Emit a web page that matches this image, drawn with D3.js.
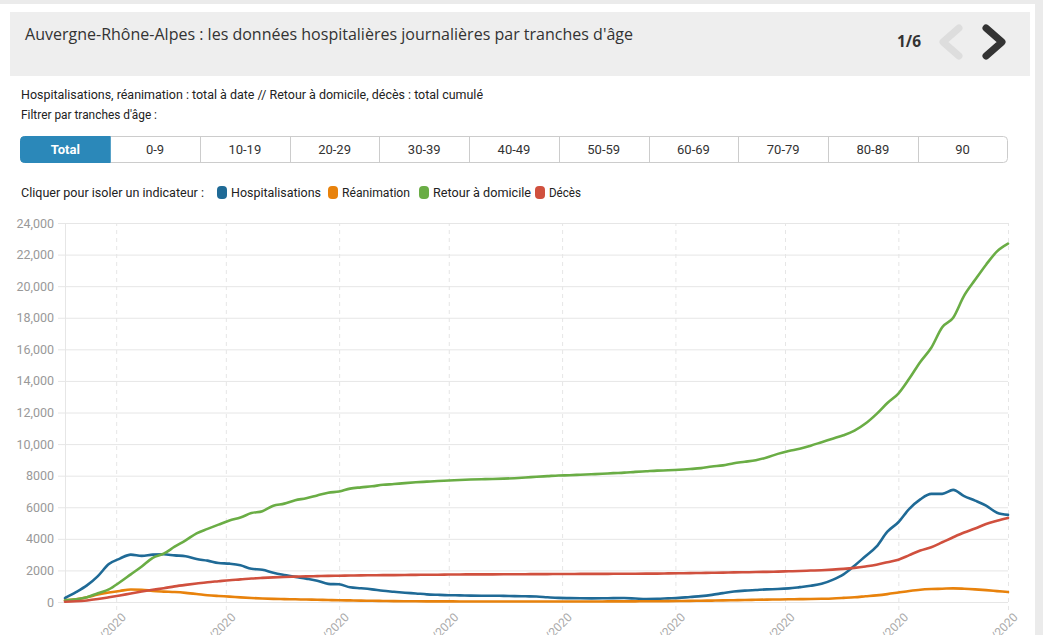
<!DOCTYPE html>
<html><head><meta charset="utf-8">
<script src="https://cdn.jsdelivr.net/npm/d3@7"></script>
<style>
body{margin:0;background:#fff;}
svg{display:block;font-family:Roboto,"Noto Sans",sans-serif;}
</style>
</head><body>
<svg id="c" width="1043" height="635"></svg>
<script>
// ---- data (one value every 3 days, starting 18/03/2020) ----
const startDate = "2020-03-18";
const stepDays = 3;
const hospitalisations = [250,620,1050,1640,2400,2750,3000,2920,3000,3020,2950,2900,2720,2620,2470,2430,2330,2100,2040,1850,1710,1590,1480,1350,1150,1120,930,870,800,710,650,590,540,485,455,430,420,405,400,400,385,375,360,345,
  300,260,245,235,230,235,245,250,220,190,200,230,260,320,370,450,560,660,720,760,800,820,860,940,1030,1150,1400,1750,2300,2900,3500,4450,5050,5900,6500,6850,6850,7100,6700,6420,6100,5650,5515];
const reanimation = [100,170,300,470,600,700,790,780,700,660,630,580,510,430,380,340,290,250,220,200,185,170,155,140,125,110,100,90,75,65,55,50,45,42,40,38,36,35,34,33,33,32,32,32,
  32,32,33,34,35,36,38,40,42,45,50,55,62,70,80,90,100,115,130,140,150,160,170,180,190,205,225,260,300,360,420,500,600,700,780,820,840,865,840,800,750,690,630];
const retourDomicile = [100,170,300,560,800,1250,1750,2250,2800,3060,3500,3900,4350,4630,4900,5160,5350,5630,5750,6100,6230,6450,6570,6750,6920,7000,7180,7260,7330,7420,7470,7530,7580,7620,7660,7690,7725,7755,7775,7790,7810,7840,7880,7930,
  7970,8010,8030,8060,8090,8120,8160,8190,8240,8280,8320,8340,8370,8420,8480,8580,8650,8790,8880,8980,9150,9380,9560,9700,9900,10120,10340,10560,10850,11300,11900,12600,13200,14150,15200,16100,17400,18000,19400,20400,21360,22200,22690];
const deces = [20,45,100,190,300,415,540,660,770,875,990,1085,1170,1250,1315,1380,1430,1485,1525,1560,1585,1605,1625,1640,1655,1665,1675,1685,1692,1700,1705,1712,1718,1725,1730,1738,1745,1748,1750,1752,1755,1760,1762,1765,
  1768,1772,1775,1778,1780,1782,1785,1788,1790,1795,1800,1810,1820,1830,1840,1850,1860,1875,1885,1895,1910,1925,1945,1965,1990,2015,2050,2095,2160,2250,2360,2520,2680,2970,3260,3470,3780,4100,4400,4650,4945,5150,5325];
const seriesNames = ["Hospitalisations","Réanimation","Retour à domicile","Décès"];
const yTicks = [0,2000,4000,6000,8000,10000,12000,14000,16000,18000,20000,22000,24000];
const xTickDates = ["2020-04-01","2020-05-01","2020-06-01","2020-07-01","2020-08-01","2020-09-01","2020-10-01","2020-11-01","2020-12-01"];
const ageGroups = ["Total","0-9","10-19","20-29","30-39","40-49","50-59","60-69","70-79","80-89","90"];

// ---- styles ----
const colors = ["#1f6a96","#e8820c","#6aad45","#d0503e"];
const W = 1043, H = 635;
const svg = d3.select("#c");
const parse = d3.timeParse("%Y-%m-%d");
const t0 = parse(startDate);
const allSeries = [hospitalisations, reanimation, retourDomicile, deces];

// frame
svg.append("rect").attr("x",0).attr("y",0).attr("width",W).attr("height",4).attr("fill","#ebebeb");
svg.append("rect").attr("x",1035).attr("y",0).attr("width",8).attr("height",H).attr("fill","#ebebeb");
svg.append("rect").attr("x",10).attr("y",12).attr("width",1020).attr("height",64).attr("fill","#eeeeee");

svg.append("text").attr("x",25).attr("y",40).attr("font-family","'Open Sans',sans-serif").attr("font-size",16.5)
  .attr("fill","#333").attr("textLength",608).attr("lengthAdjust","spacingAndGlyphs")
  .text("Auvergne-Rhône-Alpes : les données hospitalières journalières par tranches d'âge");
svg.append("text").attr("x",897).attr("y",47).attr("font-family","'Open Sans',sans-serif").attr("font-size",15.5)
  .attr("font-weight","bold").attr("fill","#333").attr("textLength",24).attr("lengthAdjust","spacingAndGlyphs").text("1/6");
svg.append("path").attr("d","M959,28L943,42L959,56").attr("fill","none").attr("stroke","#dddddd")
  .attr("stroke-width",7).attr("stroke-linecap","round").attr("stroke-linejoin","round");
svg.append("path").attr("d","M986,28L1002,42L986,56").attr("fill","none").attr("stroke","#333333")
  .attr("stroke-width",7).attr("stroke-linecap","round").attr("stroke-linejoin","round");

svg.append("text").attr("x",21).attr("y",99).attr("font-size",12.5).attr("fill","#222")
  .attr("textLength",462).attr("lengthAdjust","spacingAndGlyphs")
  .text("Hospitalisations, réanimation : total à date // Retour à domicile, décès : total cumulé");
svg.append("text").attr("x",21).attr("y",119).attr("font-size",12.5).attr("fill","#222")
  .attr("textLength",136).attr("lengthAdjust","spacingAndGlyphs").text("Filtrer par tranches d'âge :");

// buttons
const bx = d3.scaleBand().domain(ageGroups).range([20.5,1007.5]);
const bg = svg.append("g");
bg.append("rect").attr("x",20.5).attr("y",136.5).attr("width",987).attr("height",26).attr("rx",4)
  .attr("fill","#fff").attr("stroke","#cccccc");
bg.append("path").attr("d",`M${bx("0-9")},136.5H24.5A4,4 0 0 0 20.5,140.5V158.5A4,4 0 0 0 24.5,162.5H${bx("0-9")}Z`)
  .attr("fill","#2b88b9").attr("stroke","#2b88b9");
ageGroups.slice(2).forEach(g => {
  bg.append("line").attr("x1",Math.round(bx(g))+0.5).attr("x2",Math.round(bx(g))+0.5).attr("y1",137).attr("y2",162).attr("stroke","#cccccc");
});
ageGroups.forEach((g,i) => {
  bg.append("text").attr("x",bx(g)+bx.bandwidth()/2).attr("y",154).attr("text-anchor","middle")
    .attr("font-size",13).attr("font-weight",i===0?"bold":"normal").attr("fill",i===0?"#fff":"#333").text(g);
});

// legend
svg.append("text").attr("x",21).attr("y",197).attr("font-size",12.5).attr("fill","#222")
  .attr("textLength",183).attr("lengthAdjust","spacingAndGlyphs").text("Cliquer pour isoler un indicateur :");
const legX = [217,328,419,535];
const legW = [90,68,98,32];
seriesNames.forEach((n,i) => {
  svg.append("rect").attr("x",legX[i]).attr("y",186).attr("width",10).attr("height",13).attr("rx",4).attr("fill",colors[i]);
  svg.append("text").attr("x",legX[i]+14).attr("y",197).attr("font-size",12.5).attr("fill","#222")
    .attr("textLength",legW[i]).attr("lengthAdjust","spacingAndGlyphs").text(n);
});

// chart
const x = d3.scaleTime().domain([t0, parse("2020-12-01")]).range([65,1008]);
const y = d3.scaleLinear().domain([0,24000]).range([602,223]);
const fmtY = v => v >= 10000 ? d3.format(",")(v) : String(v);

const gy = svg.append("g").attr("transform","translate(58,0)")
  .call(d3.axisLeft(y).tickValues(yTicks).tickSize(-950).tickPadding(4).tickFormat(fmtY));
gy.select(".domain").remove();
gy.selectAll(".tick line").attr("stroke","#e6e6e6");
gy.selectAll(".tick text").attr("fill","#999").attr("font-size",12.5).attr("font-family","Roboto,sans-serif");

const gx = svg.append("g").attr("transform","translate(0,610)")
  .call(d3.axisBottom(x).tickValues(xTickDates.map(parse)).tickSize(-387).tickFormat(d3.timeFormat("%d/%m/%Y")));
gx.select(".domain").remove();
gx.selectAll(".tick line").attr("stroke","#e6e6e6").attr("stroke-dasharray","4,4");
gx.selectAll(".tick text").attr("fill","#aaa").attr("font-size",12).attr("font-family","Roboto,sans-serif")
  .attr("text-anchor","end").attr("transform","translate(5,3) rotate(-45)").attr("dy","0.6em").attr("y",0);

svg.append("line").attr("x1",65.5).attr("x2",65.5).attr("y1",223).attr("y2",602).attr("stroke","#e6e6e6");

const line = d3.line().x(d => x(d.date)).y(d => y(d.v)).curve(d3.curveMonotoneX);
allSeries.forEach((s,i) => {
  const pts = s.map((v,k) => ({date: d3.timeDay.offset(t0, k*stepDays), v}));
  svg.append("path").datum(pts).attr("d",line).attr("fill","none").attr("stroke",colors[i])
    .attr("stroke-width",2.6).attr("stroke-linejoin","round").attr("stroke-linecap","round");
});
</script>
</body></html>
